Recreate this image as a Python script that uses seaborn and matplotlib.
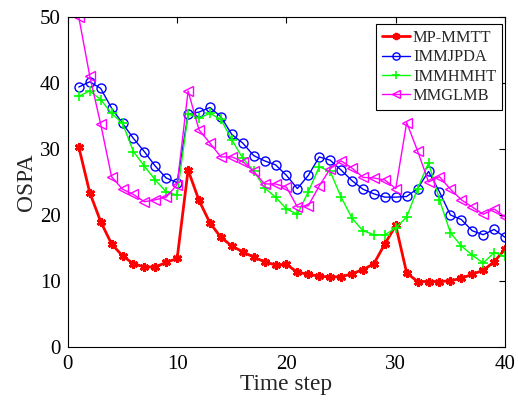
import numpy as np
import pandas as pd
import matplotlib
matplotlib.use("Agg")
import matplotlib.pyplot as plt
import seaborn as sns

steps = list(range(1, 41))

mp_mmtt = [30.3, 23.4, 19.0, 15.6, 13.8, 12.6, 12.1, 12.1, 12.8, 13.4,
           26.8, 22.2, 18.8, 16.6, 15.3, 14.4, 13.6, 12.9, 12.4, 12.5,
           11.3, 11.0, 10.7, 10.6, 10.6, 11.1, 11.7, 12.6, 15.6, 18.4,
           11.2, 9.9, 9.9, 9.9, 10.0, 10.4, 11.0, 11.6, 12.9, 14.8]

immjpda = [39.4, 40.2, 39.2, 36.2, 33.9, 31.6, 29.6, 27.4, 25.6, 24.9,
           35.3, 35.6, 36.3, 34.9, 32.2, 30.9, 29.0, 28.2, 27.6, 26.0,
           24.0, 26.0, 28.8, 28.3, 26.8, 25.2, 23.9, 23.2, 22.7, 22.7,
           22.8, 24.0, 26.6, 23.5, 20.0, 19.3, 17.6, 17.0, 17.8, 16.6]

immhmht = [38.0, 38.8, 37.5, 35.4, 33.9, 29.6, 27.4, 25.3, 23.5, 23.0,
           35.3, 34.7, 35.4, 34.5, 31.4, 28.6, 26.7, 24.1, 22.7, 20.9,
           20.1, 23.5, 27.3, 26.6, 22.7, 19.5, 17.6, 17.0, 17.0, 18.0,
           19.7, 24.0, 27.9, 22.3, 17.3, 15.3, 13.9, 12.7, 14.3, 13.7]

mmglmb = [50.0, 41.1, 33.8, 25.8, 23.9, 23.1, 22.0, 22.3, 22.7, 24.6,
          38.8, 32.9, 30.9, 28.8, 28.8, 28.1, 26.6, 24.7, 24.7, 24.2,
          21.2, 21.4, 24.4, 27.0, 28.2, 27.1, 25.7, 25.6, 25.3, 24.0,
          34.0, 29.7, 25.0, 25.8, 23.9, 22.3, 21.2, 20.1, 20.9, 19.7]

labels = ["MP-MMTT", "IMMJPDA", "IMMHMHT", "MMGLMB"]
x_ticks = [0, 10, 20, 30, 40]
y_ticks = [0, 10, 20, 30, 40, 50]

sns.set_theme(style="white")
plt.rcParams["font.family"] = ["Liberation Serif", "DejaVu Serif"]
plt.rcParams["mathtext.fontset"] = "stix"

fig = plt.figure(figsize=(5.18, 4.08), dpi=100)
ax = fig.add_axes([0.131, 0.150, 0.844, 0.808])

styles = {
    "MP-MMTT": dict(color="#ff0000", marker=(6, 2, 0), markersize=6.5, linewidth=2.0,
                    markeredgewidth=2.0, markerfacecolor="#ff0000"),
    "IMMJPDA": dict(color="#0000ff", marker="o", markersize=6.5, linewidth=1.0,
                    markeredgewidth=1.0, markerfacecolor="none"),
    "IMMHMHT": dict(color="#00ff00", marker="+", markersize=7, linewidth=1.0,
                    markeredgewidth=1.2, markerfacecolor="#00ff00"),
    "MMGLMB": dict(color="#ff00ff", marker="<", markersize=6.5, linewidth=1.0,
                   markeredgewidth=1.0, markerfacecolor="none"),
}

series = [mp_mmtt, immjpda, immhmht, mmglmb]
handles = []
for name, vals in zip(labels, series):
    df = pd.DataFrame({"Time step": steps, "OSPA": vals})
    n_before = len(ax.lines)
    sns.lineplot(data=df, x="Time step", y="OSPA", ax=ax, legend=False,
                 errorbar=None)
    line = ax.lines[n_before]
    st = styles[name]
    line.set_linestyle("-")
    line.set_color(st["color"])
    line.set_linewidth(st["linewidth"])
    line.set_marker(st["marker"])
    line.set_markersize(st["markersize"])
    line.set_markeredgewidth(st["markeredgewidth"])
    line.set_markeredgecolor(st["color"])
    line.set_markerfacecolor(st["markerfacecolor"])
    line.set_label(name)
    handles.append(line)

ax.set_xlim(0, 40)
ax.set_ylim(0, 50)
ax.set_xticks(x_ticks)
ax.set_yticks(y_ticks)
ax.tick_params(direction="in", top=True, right=True, length=4, width=0.8,
               labelsize=15, colors="black")
ax.tick_params(axis="x", pad=6)
ax.tick_params(axis="y", pad=5)
for sp in ax.spines.values():
    sp.set_color("black")
    sp.set_linewidth(0.8)
ax.set_xlabel("Time step", fontsize=16.8, labelpad=0)
ax.set_ylabel("OSPA", fontsize=16.8, labelpad=2)

leg = ax.legend(handles=handles, labels=labels, loc="upper right",
                bbox_to_anchor=(0.9925, 0.978), fontsize=11.8,
                frameon=True, fancybox=False, edgecolor="black", framealpha=1,
                handlelength=1.75, handletextpad=0.15, borderpad=0.35,
                labelspacing=0.2, borderaxespad=0.0, markerscale=0.8)
leg.get_frame().set_linewidth(0.8)

fig.savefig("out.png", dpi=100)
